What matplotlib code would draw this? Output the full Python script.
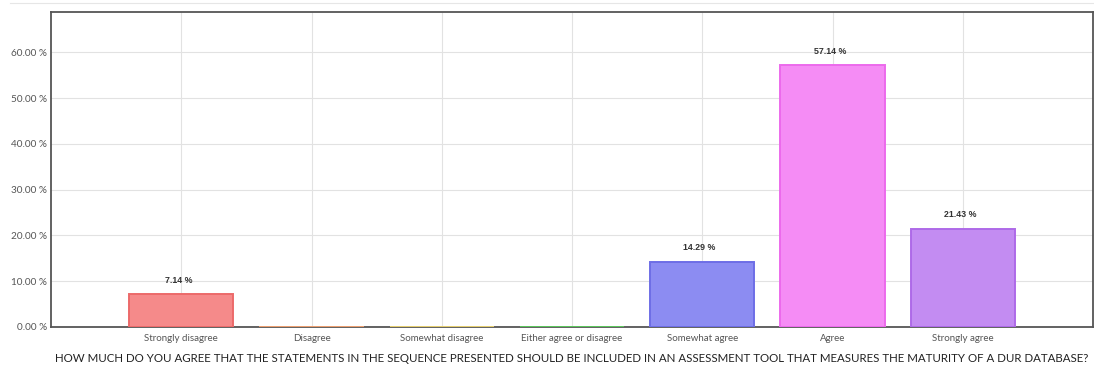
import matplotlib
matplotlib.use("Agg")
import matplotlib.pyplot as plt
from matplotlib.lines import Line2D

categories = ["Strongly disagree", "Disagree", "Somewhat disagree", "Either agree or disagree",
              "Somewhat agree", "Agree", "Strongly agree"]
values = [7.14, 0.0, 0.0, 0.0, 14.29, 57.14, 21.43]
fill_colors = ["#F58A8A", "#F5B48A", "#F2E08A", "#8AE08A", "#8C8CF2", "#F58CF5", "#C38CF2"]
edge_colors = ["#EC6A6A", "#EFA070", "#E8D070", "#5CC85C", "#6E6EE6", "#EC6AEC", "#AE6AE8"]
yticks = [0, 10, 20, 30, 40, 50, 60]
xlabel = "HOW MUCH DO YOU AGREE THAT THE STATEMENTS IN THE SEQUENCE PRESENTED SHOULD BE INCLUDED IN AN ASSESSMENT TOOL THAT MEASURES THE MATURITY OF A DUR DATABASE?"

fig = plt.figure(figsize=(10.94, 3.74), dpi=100)
ax = fig.add_axes([51/1094, 1 - 327/374, (1093-51)/1094, (327-12)/374])

x = list(range(len(categories)))
ax.bar(x, values, width=0.8, color=fill_colors, edgecolor=edge_colors, linewidth=1.4, zorder=3)

for xi, v in zip(x, values):
    if v > 0:
        ax.annotate(f"{v:.2f} %", (xi, v), xytext=(-2, 7), textcoords="offset points",
                    ha="center", va="bottom", fontsize=6.4, fontweight="bold",
                    family="Liberation Sans", color="#333333")

ax.set_xlim(-1, 7)
ax.set_ylim(0, 68.8)
ax.set_yticks(yticks)
ax.set_yticklabels([f"{t:.2f} %" for t in yticks], family="Lato", fontsize=7.2, color="#555555")
ax.set_xticks(x)
ax.set_xticklabels(categories, family="Lato", fontsize=7, color="#555555")
ax.tick_params(axis="both", length=0, pad=5)
ax.tick_params(axis="y", pad=3)
ax.grid(True, color="#e2e2e2", linewidth=0.8, zorder=0)
ax.set_axisbelow(True)
for s in ax.spines.values():
    s.set_color("#555555")
    s.set_linewidth(1.3)

ax.set_xlabel(xlabel, family="Lato", fontsize=8.3, color="#222222", labelpad=7)

fig.add_artist(Line2D([10/1094, 1], [1 - 3/374, 1 - 3/374], color="#e6e6e6", linewidth=0.8))

fig.savefig("out.png", dpi=100, facecolor="white")
